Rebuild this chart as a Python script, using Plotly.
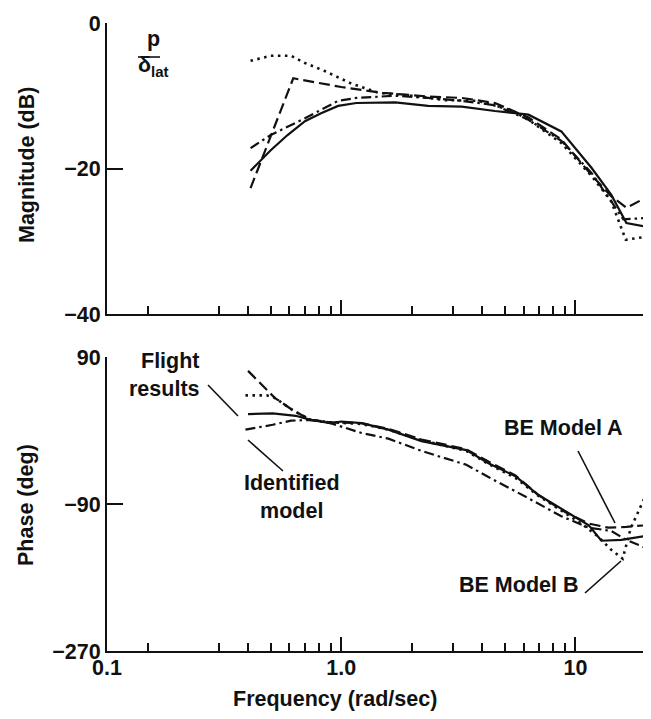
import numpy as np
import plotly.graph_objects as go

W, H = 651, 719

# ---------------- data ----------------
# Magnitude (dB)
mag_flight_f = [0.41, 0.50, 0.59, 0.70, 0.82, 0.97, 1.16, 1.4, 1.7, 2.35, 3.27, 4.53, 6.3, 8.7, 11.7, 14.2, 16.5, 20.0]
mag_flight_v = [-20.3, -17.5, -15.4, -13.5, -12.4, -11.4, -11.0, -10.9, -10.9, -11.4, -11.5, -12.1, -12.6, -14.9, -19.9, -23.6, -27.5, -28.0]

mag_ident_f = [0.41, 0.50, 0.70, 0.97, 1.16, 1.7, 2.35, 3.27, 4.53, 6.3, 8.7, 11.7, 14.2, 16.0, 20.0]
mag_ident_v = [-17.2, -15.4, -13.1, -10.7, -10.3, -10.0, -10.3, -10.7, -11.3, -13.3, -16.2, -20.6, -24.5, -27.0, -26.8]

mag_beA_f = [0.41, 0.624, 1.0, 1.5, 2.35, 3.27, 4.53, 6.3, 8.7, 11.7, 14.2, 16.5, 20.0]
mag_beA_v = [-22.7, -7.6, -8.8, -9.6, -10.1, -10.3, -11.0, -13.0, -16.0, -20.9, -23.8, -25.4, -24.0]

mag_beB_f = [0.41, 0.50, 0.61, 0.70, 0.85, 1.10, 1.44, 2.0, 2.78, 3.85, 5.33, 6.3, 8.7, 11.7, 14.2, 15.6, 16.4, 18.0, 20.0]
mag_beB_v = [-5.2, -4.5, -4.5, -5.5, -6.6, -8.3, -9.6, -10.0, -10.6, -10.7, -12.0, -13.3, -16.5, -21.0, -24.5, -27.9, -29.8, -29.6, -29.4]

# Phase (deg)
ph_flight_f = [0.40, 0.51, 0.64, 0.74, 0.90, 1.0, 1.22, 1.59, 2.2, 3.42, 4.25, 5.54, 6.95, 9.06, 11.4, 12.9, 15.7, 20.0]
ph_flight_v = [20, 21, 18, 13, 9, 11, 9, 1, -13, -24, -40, -56, -79, -99, -116, -135, -134, -129]

ph_ident_f = [0.39, 0.51, 0.61, 0.74, 0.90, 1.22, 1.59, 2.2, 3.42, 4.25, 6.3, 8.7, 11.4, 14.2, 16.5, 20.0]
ph_ident_v = [1, 7, 12, 13, 9, -3, -10, -25, -42, -57, -83, -105, -119, -123, -134, -144]

ph_beA_f = [0.40, 0.52, 0.62, 0.74, 0.90, 1.22, 1.59, 2.2, 3.42, 4.25, 5.54, 6.95, 9.06, 11.4, 13.8, 16.5, 20.0]
ph_beA_v = [73, 40, 25, 13, 10, 9, 2, -11, -23, -38, -55, -79, -100, -114, -119, -118, -116]

ph_beB_f = [0.39, 0.48, 0.52, 0.62, 0.74, 0.90, 1.22, 1.59, 2.2, 3.42, 4.25, 5.54, 6.95, 9.06, 10.6, 12.5, 14.2, 15.9, 17.2, 19.9]
ph_beB_v = [43, 43, 40, 25, 13, 10, 8, 1, -12, -25, -41, -58, -80, -101, -114, -130, -146, -157, -120, -80]

# ticks
x_major = [0.1, 1, 10]
x_major_text = ["0.1", "1.0", "10"]
x_minor = [0.15, 0.3, 0.4, 0.5, 0.6, 0.7, 0.8, 0.9, 2, 3, 4, 5, 6, 7, 8, 9, 20]
mag_ticks = [0, -20, -40]
mag_tick_text = ["0", "−20", "−40"]
ph_ticks = [90, -90, -270]
ph_tick_text = ["90", "−90", "−270"]

# ---------------- figure ----------------
FONT = "Liberation Sans, Arial, Helvetica, sans-serif"
BLACK = "#111111"
FS = 21.5

def px(x):
    return x / W

def py(y):
    return 1 - y / H

styles = {
    "flight": dict(color=BLACK, width=2.2, dash="solid"),
    "ident": dict(color=BLACK, width=2.2, dash="10px,4px,2.5px,4px"),
    "beA": dict(color=BLACK, width=2.2, dash="11px,5px"),
    "beB": dict(color=BLACK, width=2.6, dash="2.5px,4.5px"),
}
series_keys = {"Flight results": "flight", "Identified model": "ident",
               "BE Model A": "beA", "BE Model B": "beB"}

fig = go.Figure()
for name, f, v in [("Flight results", mag_flight_f, mag_flight_v),
                   ("Identified model", mag_ident_f, mag_ident_v),
                   ("BE Model A", mag_beA_f, mag_beA_v),
                   ("BE Model B", mag_beB_f, mag_beB_v)]:
    fig.add_trace(go.Scatter(x=f, y=v, mode="lines", name=name, line=styles[series_keys[name]],
                             xaxis="x", yaxis="y", showlegend=False))
for name, f, v in [("Flight results", ph_flight_f, ph_flight_v),
                   ("Identified model", ph_ident_f, ph_ident_v),
                   ("BE Model A", ph_beA_f, ph_beA_v),
                   ("BE Model B", ph_beB_f, ph_beB_v)]:
    fig.add_trace(go.Scatter(x=f, y=v, mode="lines", name=name, line=styles[series_keys[name]],
                             xaxis="x2", yaxis="y2", showlegend=False))

xrange = [-1, np.log10(20)]
xdom = [px(99), px(638)]
tfont = dict(family=FONT, size=FS, color=BLACK, weight="bold")

common_x = dict(
    type="log", range=xrange, domain=xdom, showline=True, linecolor=BLACK, linewidth=2,
    ticks="inside", tickvals=x_major, ticklen=14, tickwidth=2, tickcolor=BLACK,
    showgrid=False, zeroline=False,
    minor=dict(tickvals=x_minor, ticks="inside", ticklen=8, tickwidth=1.6, tickcolor=BLACK, showgrid=False),
)
common_y = dict(showline=True, linecolor=BLACK, linewidth=2, ticks="inside", ticklen=16, tickwidth=2,
                tickcolor=BLACK, showgrid=False, zeroline=False, tickfont=tfont)

fig.update_layout(
    width=W, height=H,
    margin=dict(l=0, r=0, t=0, b=0, autoexpand=False),
    paper_bgcolor="white", plot_bgcolor="white",
    font=dict(family=FONT, size=FS, color=BLACK, weight="bold"),
    showlegend=False,
    xaxis=dict(**common_x, anchor="y", showticklabels=False),
    yaxis=dict(**common_y, range=[-40, 0], domain=[py(306), py(15)], anchor="x",
               tickvals=mag_ticks, ticktext=mag_tick_text),
    xaxis2=dict(**common_x, anchor="y2", showticklabels=True, ticktext=x_major_text,
                tickfont=tfont, ticklabelstandoff=0),
    yaxis2=dict(**common_y, range=[-270, 90], domain=[py(643), py(349)], anchor="x2",
                tickvals=ph_ticks, ticktext=ph_tick_text),
)
try:
    fig.update_layout(xaxis2_ticklabelstandoff=-4)
except Exception:
    pass

DY = -8   # vertical correction for annotation text box
annotations = [
    dict(text="Magnitude (dB)", x=px(19), y=py(157), textangle=-90),
    dict(text="Phase (deg)", x=px(18), y=py(497), textangle=-90),
    dict(text="Frequency (rad/sec)", x=px(327), y=py(699 + DY)),
    dict(text="p", x=px(145), y=py(39 + DY)),
    dict(text="δ<sub>lat</sub>", x=px(145), y=py(66 + DY)),
    dict(text="Flight<br>results", x=px(194), y=py(375 + DY), xanchor="right", align="right"),
    dict(text="Identified<br>model", x=px(284), y=py(497 + DY)),
    dict(text="BE Model A", x=px(555), y=py(428 + DY)),
    dict(text="BE Model B", x=px(510), y=py(585 + DY)),
]
for a in annotations:
    a.setdefault("xanchor", "center")
    fig.add_annotation(xref="paper", yref="paper", yanchor="middle", showarrow=False,
                       font=tfont, **a)

leaders = [
    ((130, 49), (152, 49)),
    ((200, 377), (230, 408)),
    ((240, 432), (275, 463)),
    ((570, 443), (607, 515)),
    ((577, 585), (613, 553)),
]
for (x0, y0), (x1, y1) in leaders:
    fig.add_shape(type="line", xref="paper", yref="paper",
                  x0=px(x0), y0=py(y0), x1=px(x1), y1=py(y1),
                  line=dict(color=BLACK, width=1.6))

fig.write_html("out.html")
